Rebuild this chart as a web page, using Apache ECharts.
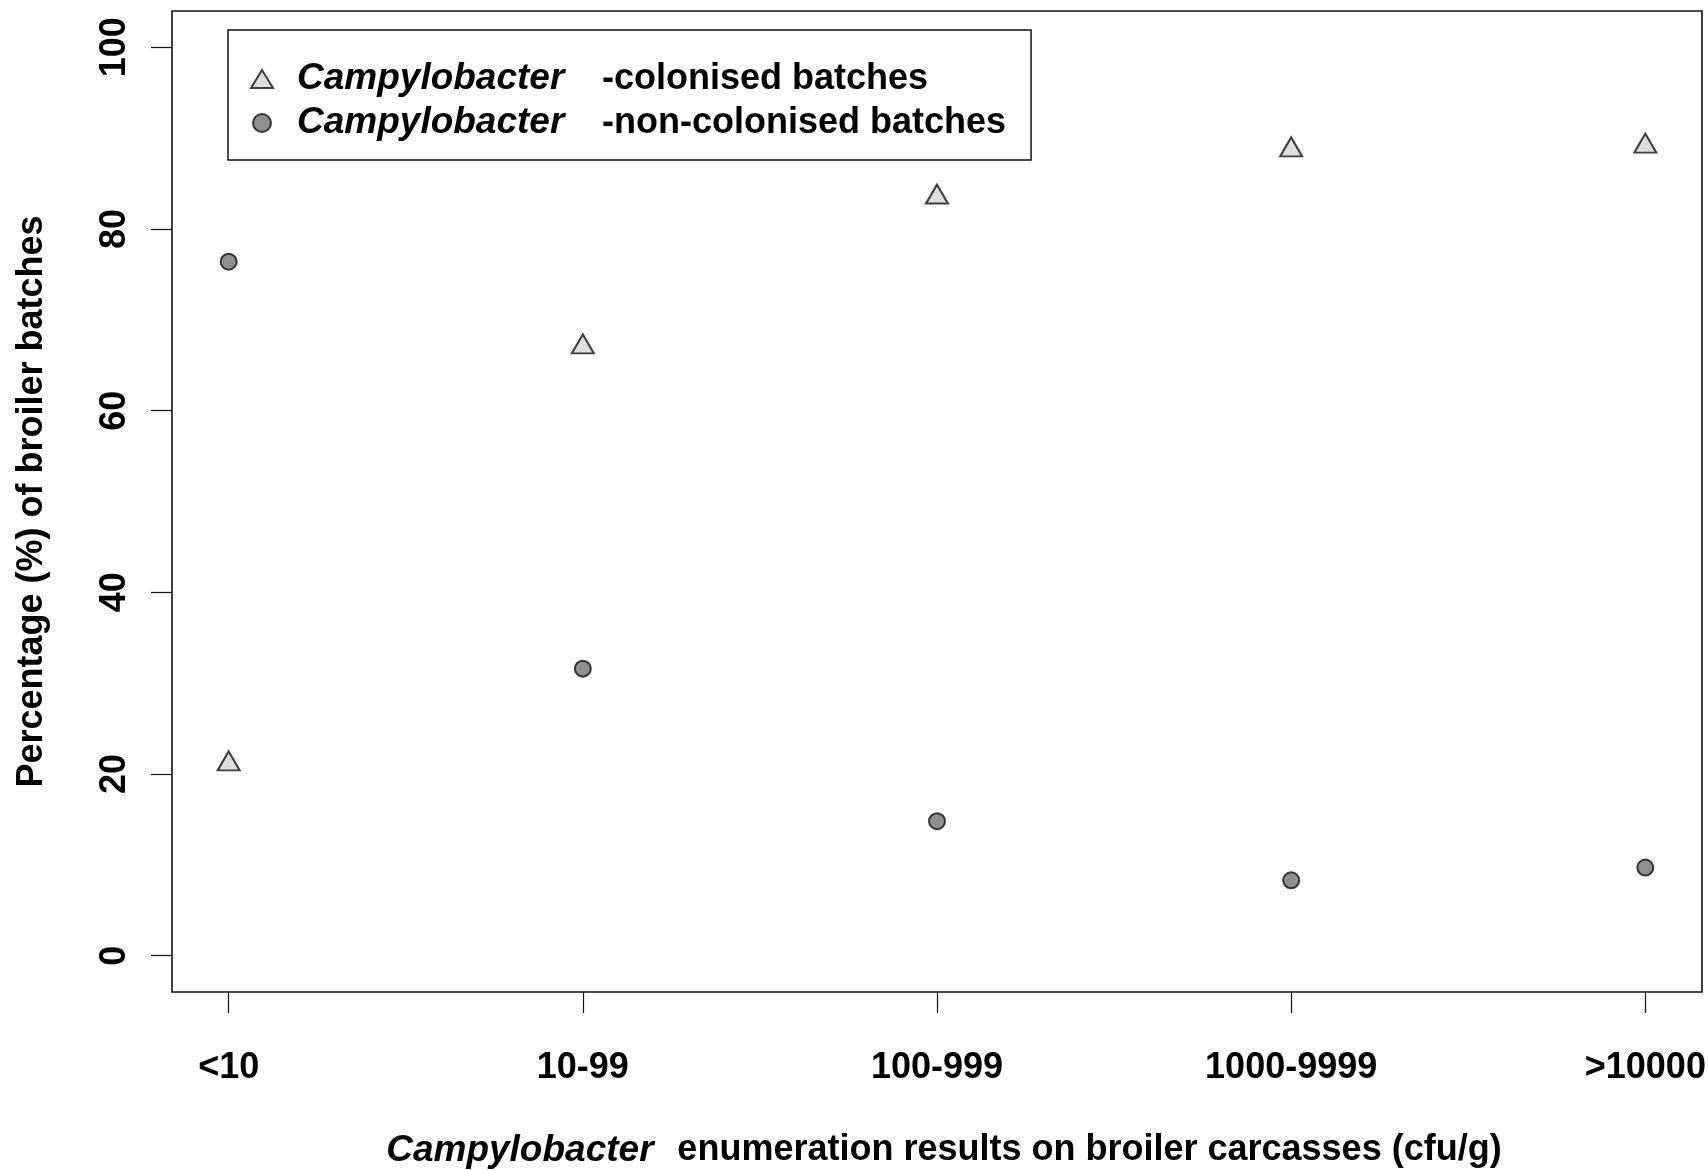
<!DOCTYPE html>
<html>
<head>
<meta charset="utf-8">
<script src="https://cdn.jsdelivr.net/npm/echarts@6/dist/echarts.min.js"></script>
<style>
  html, body { margin: 0; padding: 0; background: #ffffff; }
  #chart { width: 1708px; height: 1170px; }
</style>
</head>
<body>
<div id="chart"></div>
<script>
// Carcass count classes (cfu/g) on the x axis
const categories = ['<10', '10-99', '100-999', '1000-9999', '>10000'];
// Percentage of broiler batches per class
const colonised = [21.1, 67.0, 83.5, 88.7, 89.1];
const nonColonised = [76.4, 31.6, 14.8, 8.3, 9.7];
// Axis tick values
const xTicks = [1, 2, 3, 4, 5];
const yTicks = [0, 20, 40, 60, 80, 100];

const FONT = '"Liberation Sans", Arial, Helvetica, sans-serif';
const FS = 36;
const chart = echarts.init(document.getElementById('chart'), null, { renderer: 'canvas' });

// italic genus name inside mixed text
const italic = { fontStyle: 'italic', fontWeight: 'bold', fontSize: 37, fontFamily: FONT, color: '#000', width: 295 };
const legendRich = {
  i: Object.assign({ lineHeight: 44 }, italic),
  g: { width: 19, fontSize: FS, lineHeight: 44 }
};
const nameRich = { i: italic };

// triangle symbol: place its centroid (not its box centre) on the data point
const TRI_W = 22, TRI_H = 19;

chart.setOption({
  backgroundColor: '#ffffff',
  animation: false,
  grid: {
    left: 172, right: 6, top: 11, bottom: 178,
    outerBoundsMode: 'none',
    containLabel: false,
    show: true, borderColor: '#111', borderWidth: 1.6, backgroundColor: 'transparent'
  },
  legend: {
    orient: 'vertical',
    left: 228, top: 30,
    padding: [27, 25, 15, 22],
    itemGap: 0,
    itemWidth: 22, itemHeight: 18,
    borderColor: '#111', borderWidth: 1.5,
    textStyle: {
      fontSize: FS, fontWeight: 'bold', color: '#000', fontFamily: FONT, lineHeight: 44,
      rich: legendRich
    },
    formatter: function (name) {
      return '{g| }' + name.replace('Campylobacter', '{i|Campylobacter} ');
    }
  },
  xAxis: {
    type: 'value',
    min: 0.84, max: 5.16,
    name: '{i|Campylobacter} enumeration results on broiler carcasses (cfu/g)',
    nameLocation: 'middle',
    nameGap: 140,
    nameTextStyle: { fontSize: FS, fontWeight: 'bold', color: '#000', fontFamily: FONT, rich: nameRich },
    axisLine: { show: false, onZero: false },
    axisTick: { show: true, customValues: xTicks, length: 21, lineStyle: { color: '#111', width: 1.2 } },
    axisLabel: {
      customValues: xTicks, margin: 58,
      fontSize: FS, fontWeight: 'bold', color: '#000', fontFamily: FONT,
      formatter: function (v) { return categories[Math.round(v) - 1]; }
    },
    splitLine: { show: false }
  },
  yAxis: {
    type: 'value',
    min: -4, max: 104,
    name: 'Percentage (%) of broiler batches',
    nameLocation: 'middle',
    nameGap: 122,
    nameRotate: 90,
    nameTextStyle: { fontSize: FS, fontWeight: 'bold', color: '#000', fontFamily: FONT },
    axisLine: { show: false, onZero: false },
    axisTick: { show: true, customValues: yTicks, length: 21, lineStyle: { color: '#111', width: 1.2 } },
    axisLabel: {
      customValues: yTicks, rotate: 90, margin: 39,
      fontSize: FS, fontWeight: 'bold', color: '#000', fontFamily: FONT
    },
    splitLine: { show: false }
  },
  series: [
    {
      name: 'Campylobacter-colonised batches',
      type: 'scatter',
      symbol: 'triangle',
      symbolSize: [TRI_W, TRI_H],
      symbolOffset: [0, -TRI_H / 6],
      itemStyle: { color: '#d6d6d6', borderColor: '#111', borderWidth: 2 },
      data: colonised.map(function (v, i) { return [xTicks[i], v]; })
    },
    {
      name: 'Campylobacter-non-colonised batches',
      type: 'scatter',
      symbol: 'circle',
      symbolSize: 16,
      itemStyle: { color: '#737373', borderColor: '#111', borderWidth: 2 },
      data: nonColonised.map(function (v, i) { return [xTicks[i], v]; })
    }
  ]
});
</script>
</body>
</html>
